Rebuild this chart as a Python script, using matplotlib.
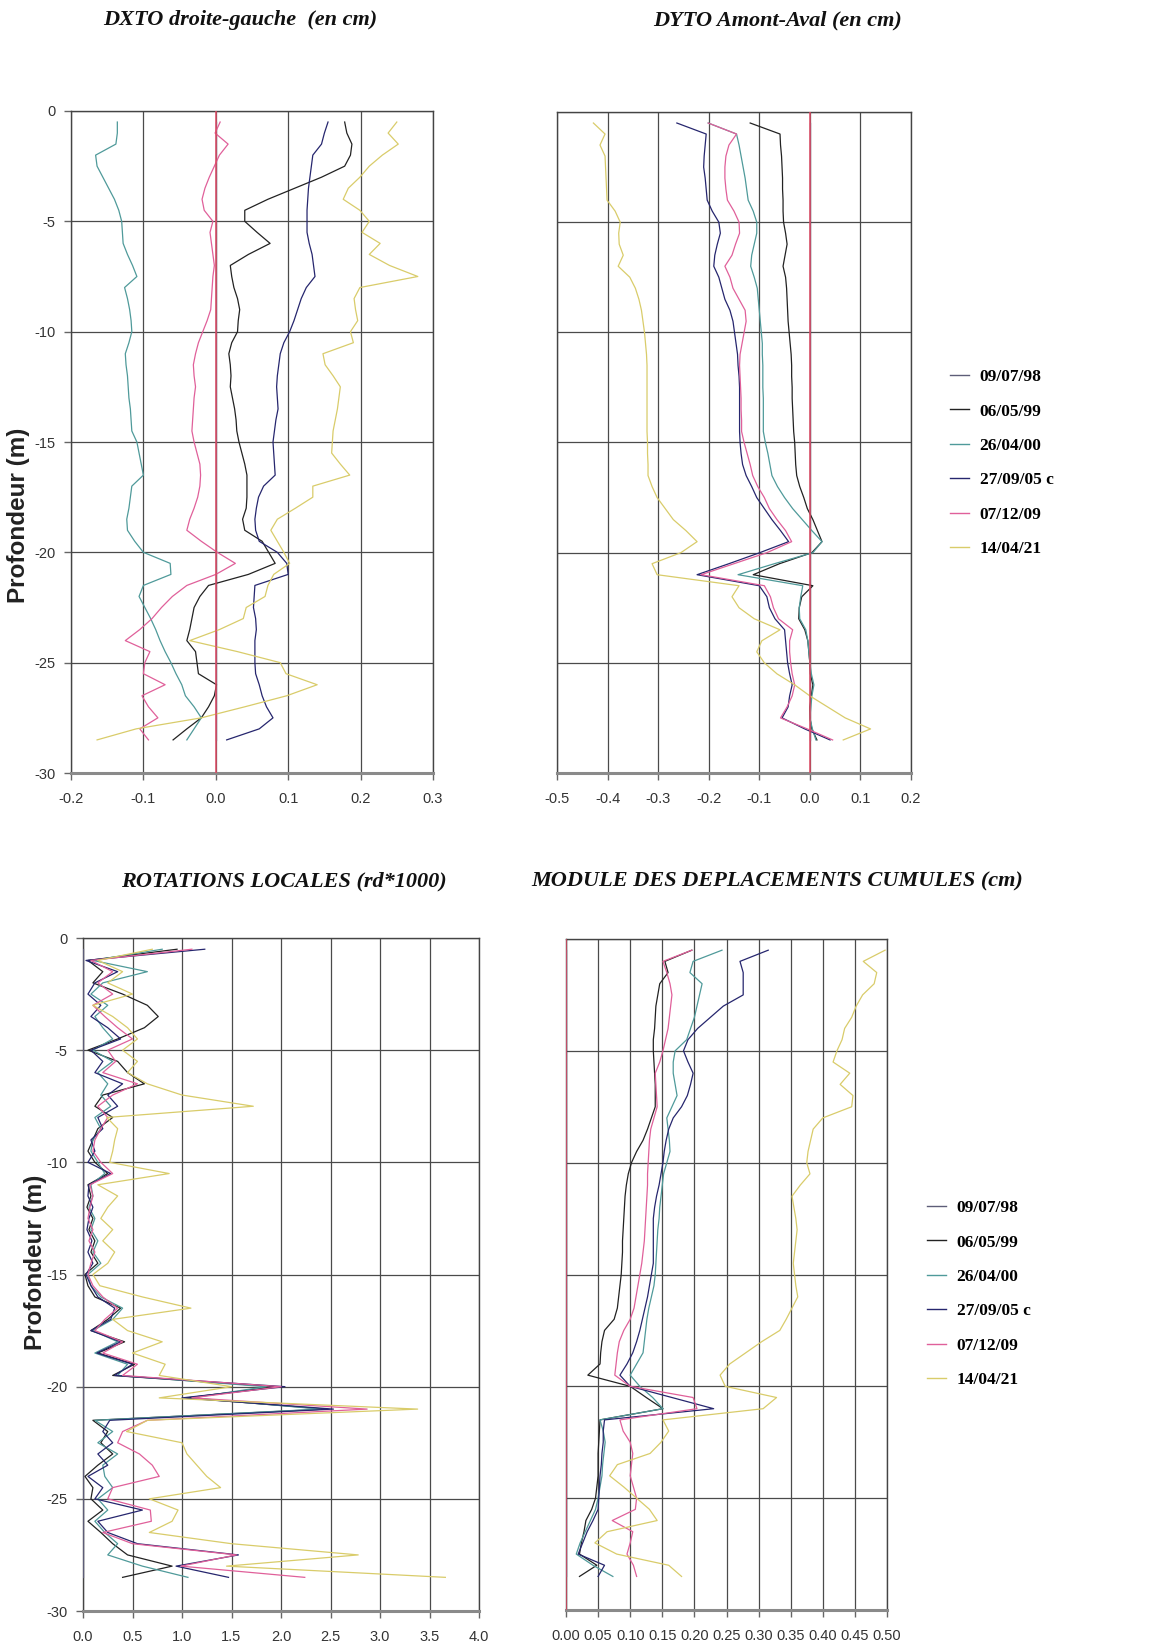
import matplotlib
matplotlib.use("Agg")
import matplotlib.pyplot as plt
from matplotlib.lines import Line2D

# Inclinometer readings: depth grid (m) shared by every survey
depth = [-0.5, -1.0, -1.5, -2.0, -2.5, -3.0, -3.5, -4.0, -4.5, -5.0,
         -5.5, -6.0, -6.5, -7.0, -7.5, -8.0, -8.5, -9.0, -9.5, -10.0,
         -10.5, -11.0, -11.5, -12.0, -12.5, -13.0, -13.5, -14.0, -14.5, -15.0,
         -15.5, -16.0, -16.5, -17.0, -17.5, -18.0, -18.5, -19.0, -19.5, -20.0,
         -20.5, -21.0, -21.5, -22.0, -22.5, -23.0, -23.5, -24.0, -24.5, -25.0,
         -25.5, -26.0, -26.5, -27.0, -27.5, -28.0, -28.5]

dates = ["09/07/98", "06/05/99", "26/04/00", "27/09/05 c", "07/12/09", "14/04/21"]
colors = ["#5d5d78", "#222222", "#4f9a9a", "#26266e", "#e0609a", "#d9cc6a"]

# Reference survey: zero everywhere
ref_zero = [0.0] * 57

# DXTO droite-gauche (cm)
dx_060599 = [0.178, 0.181, 0.188, 0.186, 0.178, 0.146, 0.109, 0.072, 0.040, 0.040,
             0.057, 0.075, 0.045, 0.020, 0.022, 0.025, 0.030, 0.033, 0.031, 0.030,
             0.022, 0.018, 0.020, 0.021, 0.020, 0.023, 0.026, 0.028, 0.029, 0.032,
             0.036, 0.040, 0.043, 0.043, 0.043, 0.042, 0.037, 0.040, 0.064, 0.073,
             0.082, 0.045, -0.010, -0.022, -0.030, -0.033, -0.036, -0.040, -0.028, -0.026,
             -0.024, 0.001, -0.002, -0.010, -0.020, -0.040, -0.059]
dx_260400 = [-0.136, -0.136, -0.138, -0.166, -0.164, -0.156, -0.148, -0.140, -0.134, -0.130,
             -0.129, -0.128, -0.122, -0.115, -0.109, -0.126, -0.122, -0.119, -0.117, -0.116,
             -0.120, -0.125, -0.124, -0.122, -0.121, -0.120, -0.118, -0.117, -0.116, -0.109,
             -0.106, -0.103, -0.100, -0.116, -0.118, -0.120, -0.123, -0.122, -0.112, -0.100,
             -0.063, -0.062, -0.100, -0.106, -0.098, -0.090, -0.083, -0.077, -0.070, -0.062,
             -0.055, -0.047, -0.042, -0.030, -0.020, -0.030, -0.040]
dx_270905 = [0.155, 0.150, 0.146, 0.134, 0.132, 0.130, 0.128, 0.127, 0.126, 0.126,
             0.126, 0.129, 0.133, 0.135, 0.137, 0.125, 0.118, 0.113, 0.108, 0.102,
             0.094, 0.089, 0.087, 0.085, 0.084, 0.085, 0.086, 0.083, 0.081, 0.079,
             0.080, 0.081, 0.082, 0.066, 0.059, 0.056, 0.054, 0.055, 0.060, 0.085,
             0.098, 0.100, 0.054, 0.053, 0.052, 0.055, 0.056, 0.054, 0.054, 0.054,
             0.055, 0.060, 0.064, 0.070, 0.079, 0.060, 0.015]
dx_071209 = [0.006, -0.001, 0.017, 0.005, -0.002, -0.009, -0.015, -0.019, -0.016, -0.004,
             -0.008, -0.006, -0.004, -0.002, -0.004, -0.005, -0.006, -0.007, -0.012, -0.018,
             -0.024, -0.028, -0.031, -0.030, -0.028, -0.030, -0.031, -0.032, -0.033, -0.030,
             -0.026, -0.022, -0.021, -0.022, -0.025, -0.030, -0.036, -0.040, -0.020, 0.002,
             0.027, 0.000, -0.040, -0.060, -0.075, -0.088, -0.105, -0.125, -0.091, -0.098,
             -0.100, -0.070, -0.102, -0.093, -0.080, -0.105, -0.093]
dx_140421 = [0.250, 0.238, 0.252, 0.230, 0.212, 0.199, 0.183, 0.176, 0.199, 0.212,
             0.202, 0.227, 0.212, 0.240, 0.279, 0.199, 0.191, 0.193, 0.196, 0.186,
             0.190, 0.148, 0.151, 0.162, 0.172, 0.170, 0.168, 0.165, 0.162, 0.161,
             0.160, 0.172, 0.185, 0.134, 0.134, 0.110, 0.085, 0.076, 0.085, 0.094,
             0.102, 0.080, 0.072, 0.068, 0.042, 0.038, 0.005, -0.036, 0.030, 0.089,
             0.097, 0.140, 0.098, 0.040, -0.020, -0.110, -0.164]

# DYTO amont-aval (cm)
dy_060599 = [-0.118, -0.059, -0.058, -0.056, -0.055, -0.054, -0.054, -0.053, -0.053, -0.052,
             -0.048, -0.045, -0.049, -0.053, -0.048, -0.046, -0.045, -0.044, -0.043, -0.041,
             -0.039, -0.037, -0.036, -0.036, -0.035, -0.035, -0.034, -0.033, -0.032, -0.030,
             -0.029, -0.028, -0.026, -0.020, -0.012, -0.005, 0.006, 0.015, 0.024, 0.004,
             -0.060, -0.112, 0.006, -0.016, -0.021, -0.022, -0.010, -0.004, -0.002, 0.000,
             0.001, 0.006, 0.003, 0.000, 0.000, 0.004, 0.014]
dy_260400 = [-0.201, -0.145, -0.140, -0.136, -0.132, -0.128, -0.125, -0.122, -0.112, -0.105,
             -0.105, -0.110, -0.115, -0.117, -0.110, -0.104, -0.102, -0.100, -0.098, -0.096,
             -0.094, -0.094, -0.093, -0.093, -0.093, -0.092, -0.092, -0.092, -0.092, -0.088,
             -0.083, -0.079, -0.075, -0.064, -0.050, -0.034, -0.015, 0.004, 0.024, 0.006,
             -0.070, -0.142, -0.014, -0.018, -0.021, -0.020, -0.008, -0.004, -0.002, 0.000,
             0.003, 0.008, 0.004, 0.002, 0.000, 0.005, 0.012]
dy_270905 = [-0.263, -0.205, -0.207, -0.209, -0.210, -0.207, -0.205, -0.203, -0.193, -0.180,
             -0.177, -0.183, -0.188, -0.190, -0.180, -0.174, -0.168, -0.158, -0.152, -0.149,
             -0.146, -0.143, -0.142, -0.140, -0.139, -0.139, -0.139, -0.139, -0.139, -0.138,
             -0.136, -0.133, -0.126, -0.115, -0.105, -0.090, -0.075, -0.058, -0.042, -0.099,
             -0.160, -0.223, -0.100, -0.085, -0.080, -0.069, -0.050, -0.048, -0.046, -0.044,
             -0.040, -0.035, -0.040, -0.043, -0.055, -0.010, 0.040]
dy_071209 = [-0.201, -0.145, -0.160, -0.166, -0.168, -0.168, -0.166, -0.163, -0.150, -0.140,
             -0.139, -0.147, -0.154, -0.168, -0.158, -0.152, -0.140, -0.128, -0.126, -0.130,
             -0.134, -0.138, -0.139, -0.138, -0.137, -0.136, -0.136, -0.135, -0.135, -0.130,
             -0.124, -0.118, -0.113, -0.103, -0.090, -0.080, -0.065, -0.048, -0.036, -0.085,
             -0.150, -0.215, -0.090, -0.078, -0.072, -0.062, -0.034, -0.040, -0.040, -0.038,
             -0.035, -0.030, -0.035, -0.045, -0.058, -0.005, 0.045]
dy_140421 = [-0.428, -0.405, -0.415, -0.405, -0.404, -0.403, -0.402, -0.401, -0.385, -0.375,
             -0.378, -0.377, -0.369, -0.379, -0.356, -0.345, -0.338, -0.333, -0.330, -0.327,
             -0.325, -0.323, -0.322, -0.322, -0.322, -0.322, -0.322, -0.322, -0.322, -0.321,
             -0.321, -0.320, -0.320, -0.312, -0.302, -0.286, -0.270, -0.245, -0.223, -0.255,
             -0.312, -0.302, -0.140, -0.154, -0.140, -0.110, -0.059, -0.095, -0.105, -0.090,
             -0.065, -0.030, 0.000, 0.035, 0.070, 0.120, 0.066]

# Rotations locales (rd*1000)
rot_060599 = [0.95, 0.05, 0.20, 0.10, 0.40, 0.65, 0.76, 0.62, 0.35, 0.05,
              0.35, 0.45, 0.62, 0.20, 0.12, 0.30, 0.15, 0.10, 0.05, 0.12,
              0.25, 0.05, 0.08, 0.04, 0.10, 0.06, 0.12, 0.08, 0.15, 0.02,
              0.05, 0.12, 0.38, 0.25, 0.08, 0.42, 0.15, 0.52, 0.30, 1.95,
              1.05, 2.45, 0.10, 0.25, 0.18, 0.30, 0.15, 0.02, 0.10, 0.08,
              0.20, 0.05, 0.18, 0.30, 0.45, 0.90, 0.40]
rot_260400 = [0.80, 0.10, 0.65, 0.20, 0.08, 0.25, 0.12, 0.20, 0.30, 0.10,
              0.30, 0.15, 0.25, 0.18, 0.28, 0.12, 0.18, 0.10, 0.08, 0.15,
              0.22, 0.08, 0.10, 0.06, 0.12, 0.08, 0.15, 0.10, 0.18, 0.05,
              0.08, 0.18, 0.40, 0.30, 0.10, 0.35, 0.12, 0.45, 0.35, 1.85,
              1.10, 2.40, 0.12, 0.30, 0.15, 0.35, 0.20, 0.22, 0.30, 0.15,
              0.25, 0.12, 0.22, 0.35, 0.25, 0.60, 1.06]
rot_270905 = [1.23, 0.03, 0.35, 0.12, 0.05, 0.18, 0.08, 0.25, 0.38, 0.08,
              0.20, 0.12, 0.40, 0.25, 0.35, 0.15, 0.20, 0.08, 0.12, 0.05,
              0.28, 0.06, 0.05, 0.10, 0.06, 0.04, 0.09, 0.05, 0.10, 0.03,
              0.08, 0.15, 0.32, 0.28, 0.08, 0.38, 0.14, 0.50, 0.32, 2.04,
              1.00, 2.53, 0.27, 0.20, 0.30, 0.15, 0.25, 0.05, 0.20, 0.12,
              0.60, 0.15, 0.25, 0.55, 1.57, 0.94, 1.47]
rot_071209 = [1.10, 0.08, 0.30, 0.15, 0.30, 0.10, 0.22, 0.35, 0.50, 0.25,
              0.33, 0.20, 0.55, 0.30, 0.15, 0.25, 0.18, 0.12, 0.10, 0.18,
              0.30, 0.07, 0.10, 0.07, 0.05, 0.10, 0.06, 0.12, 0.08, 0.05,
              0.10, 0.20, 0.35, 0.22, 0.12, 0.40, 0.20, 0.55, 0.40, 2.00,
              1.10, 2.87, 0.65, 0.40, 0.35, 0.57, 0.70, 0.77, 0.30, 0.25,
              0.68, 0.69, 0.20, 0.50, 1.55, 0.99, 2.24]
rot_140421 = [0.70, 0.15, 0.40, 0.25, 0.50, 0.10, 0.30, 0.45, 0.55, 0.40,
              0.55, 0.45, 0.65, 1.00, 1.72, 0.24, 0.35, 0.32, 0.30, 0.27,
              0.87, 0.15, 0.35, 0.25, 0.18, 0.30, 0.20, 0.32, 0.25, 0.10,
              0.17, 0.60, 1.09, 0.30, 0.45, 0.80, 0.50, 0.83, 0.77, 1.50,
              0.77, 3.38, 0.65, 0.44, 1.00, 1.05, 1.15, 1.25, 1.39, 0.67,
              0.96, 0.90, 0.67, 1.50, 2.78, 1.45, 3.66]

# Module des deplacements cumules (cm)
m_060599 = [0.196, 0.154, 0.159, 0.146, 0.143, 0.140, 0.139, 0.138, 0.136, 0.136,
            0.137, 0.138, 0.139, 0.139, 0.139, 0.133, 0.127, 0.120, 0.110, 0.102,
            0.097, 0.094, 0.092, 0.091, 0.090, 0.089, 0.088, 0.088, 0.087, 0.086,
            0.084, 0.082, 0.080, 0.075, 0.060, 0.056, 0.054, 0.053, 0.034, 0.100,
            0.125, 0.151, 0.053, 0.052, 0.051, 0.050, 0.050, 0.050, 0.048, 0.046,
            0.040, 0.031, 0.028, 0.024, 0.021, 0.048, 0.021]
m_260400 = [0.243, 0.198, 0.193, 0.212, 0.208, 0.204, 0.200, 0.194, 0.188, 0.170,
            0.167, 0.167, 0.170, 0.173, 0.165, 0.157, 0.159, 0.161, 0.162, 0.157,
            0.152, 0.150, 0.148, 0.146, 0.145, 0.143, 0.142, 0.141, 0.140, 0.139,
            0.137, 0.133, 0.129, 0.126, 0.124, 0.122, 0.120, 0.110, 0.100, 0.115,
            0.135, 0.151, 0.053, 0.058, 0.061, 0.059, 0.057, 0.056, 0.053, 0.050,
            0.046, 0.038, 0.030, 0.022, 0.016, 0.042, 0.073]
m_270905 = [0.315, 0.271, 0.276, 0.276, 0.276, 0.245, 0.225, 0.205, 0.190, 0.183,
            0.190, 0.198, 0.194, 0.189, 0.180, 0.167, 0.160, 0.156, 0.153, 0.151,
            0.148, 0.145, 0.141, 0.138, 0.136, 0.136, 0.136, 0.136, 0.136, 0.133,
            0.130, 0.127, 0.123, 0.119, 0.115, 0.110, 0.104, 0.095, 0.084, 0.100,
            0.165, 0.230, 0.060, 0.058, 0.058, 0.056, 0.055, 0.053, 0.052, 0.051,
            0.050, 0.042, 0.033, 0.026, 0.019, 0.060, 0.050]
m_071209 = [0.196, 0.151, 0.157, 0.162, 0.165, 0.163, 0.161, 0.159, 0.155, 0.151,
            0.146, 0.139, 0.140, 0.141, 0.142, 0.137, 0.132, 0.130, 0.129, 0.128,
            0.127, 0.127, 0.126, 0.125, 0.124, 0.123, 0.122, 0.120, 0.118, 0.115,
            0.112, 0.109, 0.106, 0.100, 0.090, 0.083, 0.080, 0.078, 0.076, 0.100,
            0.198, 0.204, 0.084, 0.089, 0.100, 0.104, 0.102, 0.100, 0.105, 0.110,
            0.108, 0.072, 0.104, 0.100, 0.095, 0.105, 0.110]
m_140421 = [0.497, 0.463, 0.484, 0.480, 0.462, 0.452, 0.445, 0.434, 0.430, 0.422,
            0.416, 0.442, 0.427, 0.447, 0.445, 0.400, 0.385, 0.381, 0.377, 0.375,
            0.380, 0.365, 0.352, 0.355, 0.358, 0.360, 0.358, 0.356, 0.354, 0.356,
            0.358, 0.361, 0.352, 0.343, 0.333, 0.305, 0.280, 0.255, 0.240, 0.248,
            0.328, 0.307, 0.151, 0.160, 0.148, 0.131, 0.080, 0.068, 0.090, 0.110,
            0.130, 0.142, 0.064, 0.045, 0.079, 0.160, 0.180]

dx_series = [ref_zero, dx_060599, dx_260400, dx_270905, dx_071209, dx_140421]
dy_series = [ref_zero, dy_060599, dy_260400, dy_270905, dy_071209, dy_140421]
rot_series = [ref_zero, rot_060599, rot_260400, rot_270905, rot_071209, rot_140421]
mod_series = [ref_zero, m_060599, m_260400, m_270905, m_071209, m_140421]

dx_ticks = [-0.2, -0.1, 0.0, 0.1, 0.2, 0.3]
dy_ticks = [-0.5, -0.4, -0.3, -0.2, -0.1, 0.0, 0.1, 0.2]
rot_ticks = [0.0, 0.5, 1.0, 1.5, 2.0, 2.5, 3.0, 3.5, 4.0]
mod_ticks = [0.00, 0.05, 0.10, 0.15, 0.20, 0.25, 0.30, 0.35, 0.40, 0.45, 0.50]
depth_ticks = [0, -5, -10, -15, -20, -25, -30]

titles = ["DXTO droite-gauche  (en cm)", "DYTO Amont-Aval (en cm)",
          "ROTATIONS LOCALES (rd*1000)", "MODULE DES DEPLACEMENTS CUMULES (cm)"]

W, H = 1168, 1651
fig = plt.figure(figsize=(W / 100, H / 100), dpi=100)
fig.patch.set_facecolor("white")


def px_axes(x0, y0, x1, y1):
    return fig.add_axes([x0 / W, 1 - y1 / H, (x1 - x0) / W, (y1 - y0) / H])


SANS = "Liberation Sans"
SERIF = "Liberation Serif"


def style_panel(ax, xticks, fmt, show_y, red_zero):
    ax.set_xlim(xticks[0], xticks[-1])
    ax.set_ylim(-30, 0)
    ax.set_xticks(xticks)
    ax.set_xticklabels([fmt.format(v) for v in xticks], fontfamily=SANS,
                       fontsize=10.5, color="#333333")
    ax.set_yticks(depth_ticks)
    if show_y:
        ax.set_yticklabels([str(v) for v in depth_ticks], fontfamily=SANS,
                           fontsize=10.5, color="#333333")
        ax.tick_params(axis="y", length=5, width=1, color="#666666", pad=6)
    else:
        ax.tick_params(axis="y", length=0, labelleft=False)
    ax.tick_params(axis="x", length=5, width=1, color="#666666", pad=9)
    ax.grid(True, color="#4a4a4a", linewidth=0.9)
    ax.set_axisbelow(True)
    for side in ("top", "left", "right"):
        ax.spines[side].set_color("#444444")
        ax.spines[side].set_linewidth(1.0)
    ax.spines["bottom"].set_color("#8a8a8a")
    ax.spines["bottom"].set_linewidth(2.2)
    if red_zero:
        ax.axvline(0.0, color="#e04a64", linewidth=1.1, zorder=4)


def draw_series(ax, series_list):
    for vals, col in zip(series_list, colors):
        ax.plot(vals, depth, color=col, linewidth=0.9, zorder=3)


ax_dx = px_axes(71, 111, 433, 773)
draw_series(ax_dx, dx_series)
style_panel(ax_dx, dx_ticks, "{:.1f}", True, True)

ax_dy = px_axes(557, 112, 911, 773)
draw_series(ax_dy, dy_series)
style_panel(ax_dy, dy_ticks, "{:.1f}", False, True)

ax_rot = px_axes(83, 938, 479, 1611)
draw_series(ax_rot, rot_series)
style_panel(ax_rot, rot_ticks, "{:.1f}", True, False)

ax_mod = px_axes(566, 939, 887, 1610)
draw_series(ax_mod, mod_series)
style_panel(ax_mod, mod_ticks, "{:.2f}", False, True)

# Panel titles
title_pos = [(240, 20), (778, 20), (284, 881), (777, 881)]
for (tx, ty), t in zip(title_pos, titles):
    fig.text(tx / W, 1 - ty / H, t, ha="center", va="center", fontfamily=SERIF,
             fontweight="bold", fontstyle="italic", fontsize=16, color="#111111")

# Depth axis labels
fig.text(19 / W, 1 - 515 / H, "Profondeur (m)", rotation=90, ha="center", va="center",
         fontfamily=SANS, fontweight="bold", fontsize=17.5, color="#222222")
fig.text(36 / W, 1 - 1262 / H, "Profondeur (m)", rotation=90, ha="center", va="center",
         fontfamily=SANS, fontweight="bold", fontsize=17.5, color="#222222")

# Legends
handles = [Line2D([], [], color=c, linewidth=1.0) for c in colors]
for anchor in [(950 / W, 1 - 369 / H), (927 / W, 1 - 1200 / H)]:
    fig.legend(handles, dates, loc="upper left", bbox_to_anchor=anchor, frameon=False,
               prop={"family": SERIF, "weight": "bold", "size": 12.5},
               handlelength=1.1, handletextpad=0.6, labelspacing=1.05,
               borderpad=0, borderaxespad=0)

fig.savefig("out.png", dpi=100, facecolor="white")
